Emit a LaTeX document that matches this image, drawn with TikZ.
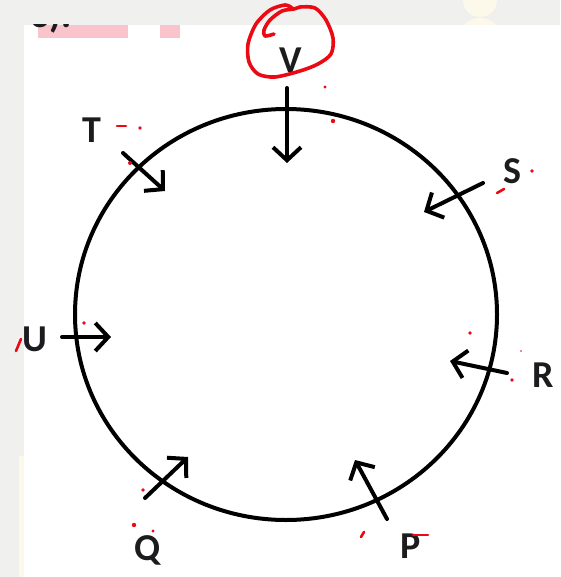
\documentclass[tikz,border=0pt]{standalone}
\usepackage{fontspec}
\setmainfont{Carlito}
\usetikzlibrary{arrows.meta,shapes.geometric}
\definecolor{bggray}{RGB}{240,240,239}
\definecolor{cream}{RGB}{253,249,234}
\definecolor{pinkbar}{RGB}{250,196,204}
\definecolor{inkred}{RGB}{235,10,20}
\definecolor{ink}{RGB}{28,28,30}
\tikzset{
  lbl/.style={font=\fontsize{38}{42}\selectfont\bfseries, text=ink, inner sep=0pt},
  ptr/.style={line width=4pt, draw=black, line cap=round,
    -{Straight Barb[length=13pt,width=28pt,line width=4pt]}},
  rim/.style={line width=4pt, draw=black},
  redmark/.style={line width=2.6pt, draw=inkred, line cap=round},
  reddot/.style={fill=inkred, draw=none},
}
\begin{document}
\begin{tikzpicture}[x=1pt,y=-1pt]
\useasboundingbox (0,0) rectangle (560,577);
% screenshot background
\fill[bggray] (0,0) rectangle (560,577);
\fill[cream] (480,0) circle (17);
\fill[cream] (480,40) circle (22);
\fill[cream] (19,456) rectangle (24,577);
\fill[white] (24,25) rectangle (560,577);
% cropped text and highlight at top left
\fill[pinkbar] (38,25) rectangle (128,38);
\fill[pinkbar] (160,25) rectangle (180,38);
\begin{scope}
  \clip (24,25) rectangle (200,60);
  \node[lbl, anchor=base west] (cut) at (30,28) {3).};
\end{scope}
% circle
\node[rim, ellipse, minimum width=422pt, minimum height=411pt, inner sep=0pt] (ring) at (286,314.5) {};
% labels
\node[lbl] (V) at (291,60) {V};
\node[lbl] (T) at (92,130) {T};
\node[lbl] (S) at (512,171) {S};
\node[lbl] (U) at (35,339) {U};
\node[lbl] (R) at (543,375) {R};
\node[lbl] (Q) at (148,550) {Q};
\node[lbl] (P) at (411,546) {P};
% arrow end points
\coordinate (v1) at (287,88);  \coordinate (v2) at (287,163);
\coordinate (t1) at (123,153); \coordinate (t2) at (165,191);
\coordinate (s1) at (483,183); \coordinate (s2) at (424,212);
\coordinate (u1) at (62,337);  \coordinate (u2) at (111,337);
\coordinate (r1) at (507,373); \coordinate (r2) at (450,361);
\coordinate (q1) at (145,498); \coordinate (q2) at (188,457);
\coordinate (p1) at (387,519); \coordinate (p2) at (355,460);
\draw[ptr] (v1) -- (v2);
\draw[ptr] (t1) -- (t2);
\draw[ptr] (s1) -- (s2);
\draw[ptr] (u1) -- (u2);
\draw[ptr] (r1) -- (r2);
\draw[ptr] (q1) -- (q2);
\draw[ptr] (p1) -- (p2);
% red annotations
\draw[redmark, line width=3.6pt, line join=round] plot[smooth] coordinates {
  (274,34) (265,36) (264,30) (270,20) (282,11) (294,9) (300,7) (315,8)
  (326,20) (333,38) (331,54) (318,64) (300,71) (275,77) (258,74) (249,62)
  (248,44) (256,24) (270,10) (285,5) (292,8)};
\fill[reddot] (325,87) circle (1.6);
\fill[reddot] (333,121) circle (2.2);
\draw[redmark] (117,126) -- (126,126);
\fill[reddot] (140,128) circle (1.8);
\fill[reddot] (130,163) circle (2);
\draw[redmark] (16,351) -- (21,339);
\fill[reddot] (84,323) circle (1.8);
\draw[redmark] (497,193) -- (504,189);
\fill[reddot] (532,171) circle (1.8);
\fill[reddot] (470,333) circle (1.8);
\fill[reddot] (521,351) circle (0.8);
\fill[reddot] (512,380) circle (1.8);
\fill[reddot] (143,490) circle (1.8);
\fill[reddot] (134,525) circle (2.2);
\fill[reddot] (153,531) circle (1.6);
\draw[redmark] (361,537) -- (364,532);
\draw[redmark] (413,535) -- (428,535);
\end{tikzpicture}
\end{document}
